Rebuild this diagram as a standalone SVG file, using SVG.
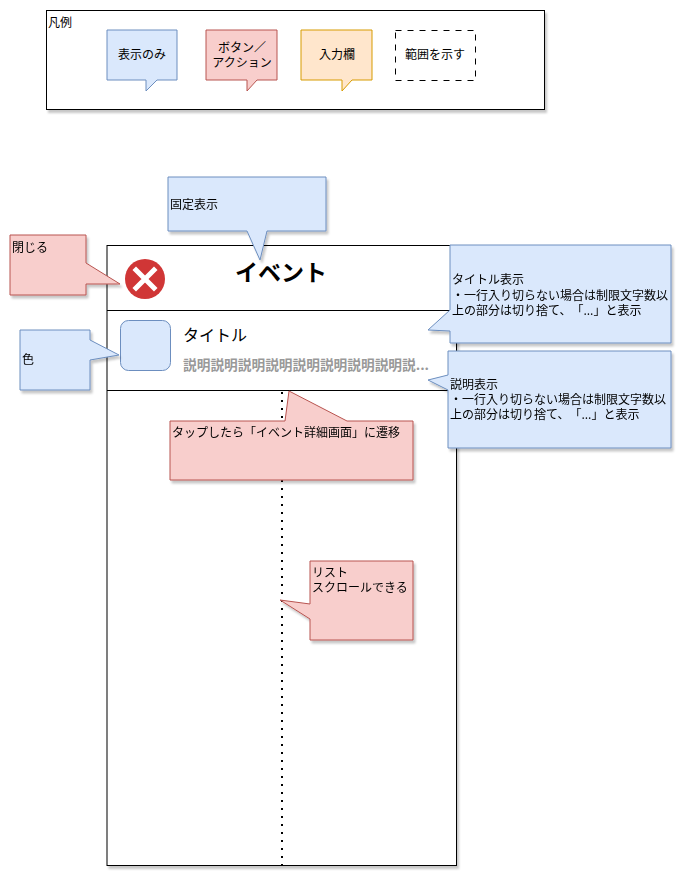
<svg xmlns="http://www.w3.org/2000/svg" width="687" height="884" viewBox="0 0 687 884">
<defs>
<filter id="sh" x="-10%" y="-10%" width="130%" height="130%">
<feDropShadow dx="2" dy="3" stdDeviation="1.2" flood-color="#000" flood-opacity="0.22"/>
</filter>
<style>
text{font-family:"Noto Sans CJK JP","Noto Sans",sans-serif;font-size:12px;fill:#000;text-spacing-trim:space-all}
.blue{fill:#dae8fc;stroke:#6c8ebf;stroke-width:1}
.red{fill:#f8cecc;stroke:#b85450;stroke-width:1}
.orange{fill:#ffe6cc;stroke:#d79b00;stroke-width:1}
.frame{fill:#fff;stroke:#000;stroke-width:1}
.c{text-anchor:middle}
</style>
</defs>
<rect width="687" height="884" fill="#fff"/>

<g id="legend">
<rect class="frame" x="46.5" y="10.5" width="498" height="99" filter="url(#sh)"/>
<text x="48" y="27">凡例</text>
<g id="legend-display">
<path class="blue" d="M107,30 H177 V80 H157 L146,91 V80 H107 Z"/>
<text class="c" x="142" y="59">表示のみ</text>
</g>
<g id="legend-button">
<path class="red" d="M206,30 H277 V80 H257 L247,91 V80 H206 Z"/>
<text class="c" x="242" y="52">ボタン／</text>
<text class="c" x="242" y="67">アクション</text>
</g>
<g id="legend-input">
<path class="orange" d="M301,30 H372 V80 H352 L342,91 V80 H301 Z"/>
<text class="c" x="337" y="59">入力欄</text>
</g>
<g id="legend-range">
<rect x="395.5" y="30.5" width="80" height="50" fill="none" stroke="#000" stroke-dasharray="6 6"/>
<text class="c" x="435" y="59">範囲を示す</text>
</g>
</g>

<g id="screen">
<rect class="frame" x="107" y="245.5" width="349.5" height="620" filter="url(#sh)"/>
<line x1="107" y1="310.5" x2="456.5" y2="310.5" stroke="#000"/>
<line x1="107" y1="390.5" x2="456.5" y2="390.5" stroke="#000"/>
</g>

<g id="close-button">
<circle cx="145" cy="279" r="20" fill="#d03636"/>
<path d="M136,270 L154,288 M154,270 L136,288" stroke="#fff" stroke-width="5" stroke-linecap="square"/>
</g>

<g id="screen-title">
<text class="c" x="281" y="281" style="font-size:23px;font-weight:bold">イベント</text>
</g>

<g id="list-item">
<rect class="blue" x="120.5" y="320.5" width="50" height="50" rx="8"/>
<text x="183" y="341" style="font-size:16px">タイトル</text>
<text x="183" y="370" style="font-size:13.7px;font-weight:bold;fill:#999">説明説明説明説明説明説明説明説明説...</text>
</g>

<g id="connectors">
<line x1="282" y1="392" x2="282" y2="865" stroke="#000" stroke-width="2" stroke-dasharray="2 6"/>
</g>

<g id="note-fixed" filter="url(#sh)">
<path class="blue" d="M168,177 H326 V231 H267 L260,260 L247,231 H168 Z"/>
<text x="170" y="209">固定表示</text>
</g>

<g id="note-close" filter="url(#sh)">
<path class="red" d="M10,235 H86 V263 L120,284 H86 V295 H10 Z"/>
<text x="12" y="252">閉じる</text>
</g>

<g id="note-color" filter="url(#sh)">
<path class="blue" d="M20,330 H90 V340 L119,355 L90,360 V390 H20 Z"/>
<text x="22" y="364">色</text>
</g>

<g id="note-title" filter="url(#sh)">
<path class="blue" d="M450,245 H671 V343 H450 V331 L428,330 L450,310 Z"/>
<text x="452" y="284">タイトル表示</text>
<text x="452" y="300">・一行入り切らない場合は制限文字数以</text>
<text x="452" y="315">上の部分は切り捨て、「...」と表示</text>
</g>

<g id="note-desc" filter="url(#sh)">
<path class="blue" d="M448,351 H671 V448 H448 V390 L428,380 L448,375 Z"/>
<text x="450" y="389">説明表示</text>
<text x="450" y="404">・一行入り切らない場合は制限文字数以</text>
<text x="450" y="419">上の部分は切り捨て、「...」と表示</text>
</g>

<g id="note-tap" filter="url(#sh)">
<path class="red" d="M170,421 H285 L289,391 L347,421 H413 V480 H170 Z"/>
<text x="172" y="437">タップしたら「イベント詳細画面」に遷移</text>
</g>

<g id="note-scroll" filter="url(#sh)">
<path class="red" d="M310,561 H413 V640 H310 V619 L280,600 L310,604 Z"/>
<text x="312" y="577">リスト</text>
<text x="312" y="592">スクロールできる</text>
</g>
</svg>
